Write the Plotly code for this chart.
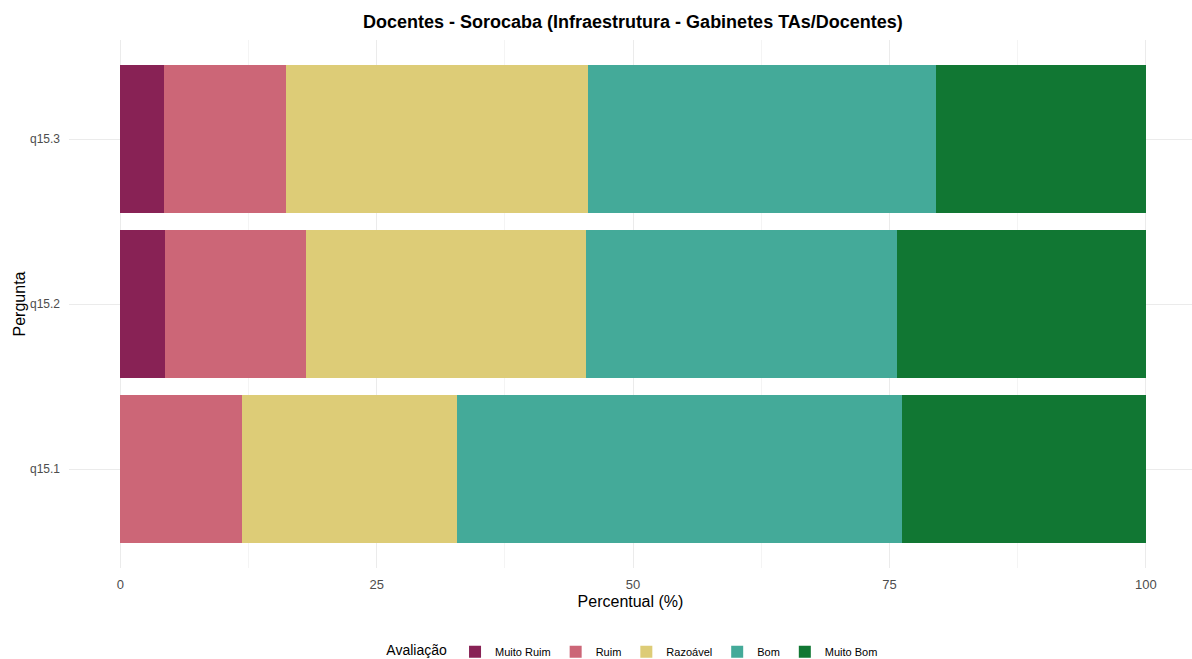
import plotly.graph_objects as go

perguntas = ["q15.1", "q15.2", "q15.3"]
categorias = ["Muito Ruim", "Ruim", "Razoável", "Bom", "Muito Bom"]
muito_ruim = [0.0, 4.4, 4.3]
ruim = [11.9, 13.7, 11.9]
razoavel = [20.9, 27.3, 29.4]
bom = [43.4, 30.3, 33.9]
muito_bom = [23.8, 24.3, 20.5]
cores = ["#882255", "#CC6677", "#DDCC77", "#44AA99", "#117733"]
x_ticks = [0, 25, 50, 75, 100]

series = [muito_ruim, ruim, razoavel, bom, muito_bom]

fig = go.Figure()
for nome, vals, cor in zip(categorias, series, cores):
    fig.add_trace(go.Bar(
        y=perguntas, x=vals, name=nome, orientation="h",
        marker=dict(color=cor, line=dict(width=0)),
    ))

fig.update_layout(
    barmode="stack",
    bargap=0.1,
    width=1192, height=659,
    paper_bgcolor="white", plot_bgcolor="white",
    margin=dict(l=69, r=0, t=40, b=91, autoexpand=False),
    font=dict(family="Liberation Sans, Arial, sans-serif", color="#000000"),
    title=dict(
        text="<b>Docentes - Sorocaba (Infraestrutura - Gabinetes TAs/Docentes)</b>",
        x=0.531, xanchor="center", y=0.9666, yanchor="middle",
        font=dict(size=18, color="#000000"),
    ),
    legend=dict(
        orientation="h", x=0.503, xanchor="center", xref="paper",
        y=-0.131, yanchor="top",
        title=dict(text="Avaliação", font=dict(size=14), side="left"),
        font=dict(size=11),
        traceorder="normal",
        itemwidth=30,
    ),
    showlegend=True,
)

fig.update_xaxes(
    range=[-5, 104.5],
    tickmode="array", tickvals=x_ticks, ticktext=[str(t) for t in x_ticks],
    showgrid=True, gridcolor="#ebebeb", gridwidth=1,
    minor=dict(tickmode="array", tickvals=[12.5, 37.5, 62.5, 87.5], showgrid=True,
               gridcolor="#f4f4f4", gridwidth=1),
    zeroline=False, showline=False, ticks="",
    tickfont=dict(size=13, color="#4d4d4d"),
    ticklabelstandoff=7,
    automargin=False,
    title=dict(text="Percentual (%)", font=dict(size=16, color="#000000"), standoff=4),
)
fig.update_yaxes(
    categoryorder="array", categoryarray=perguntas,
    range=[-0.6, 2.6],
    showgrid=True, gridcolor="#ebebeb", gridwidth=1,
    zeroline=False, showline=False, ticks="",
    tickfont=dict(size=12, color="#4d4d4d"),
    ticklabelstandoff=8,
    automargin=False,
    title=dict(text="Pergunta", font=dict(size=16, color="#000000"), standoff=0),
)

fig.write_html("out.html", config={"displayModeBar": False},
               post_script="document.body.style.margin='0';")
